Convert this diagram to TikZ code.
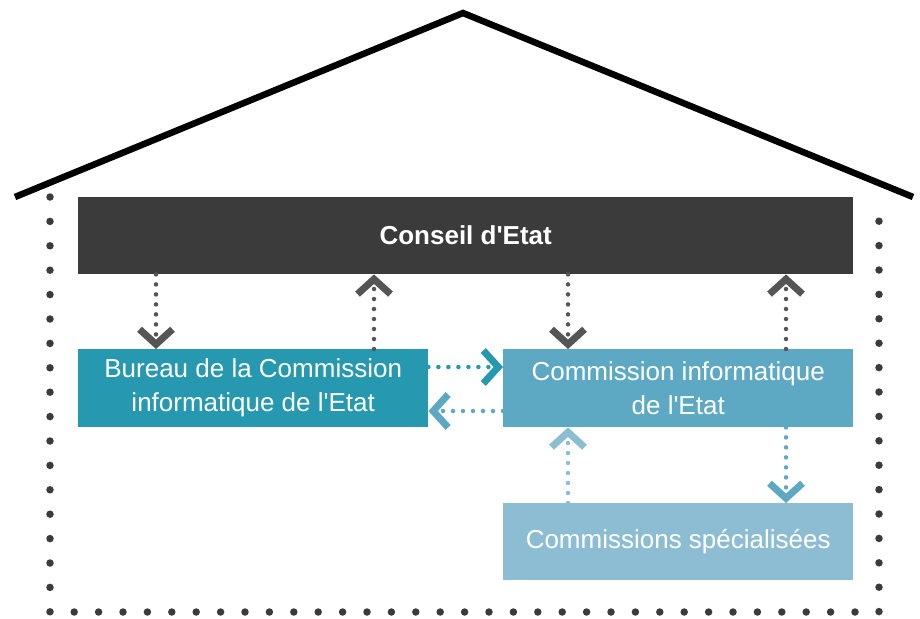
\documentclass[tikz,border=0pt]{standalone}
\usepackage{fontspec}
\setmainfont{Liberation Sans}
\usetikzlibrary{arrows.meta}
\definecolor{darkbox}{HTML}{3B3B3B}
\definecolor{darkline}{HTML}{555555}
\definecolor{bureaucol}{HTML}{2699B1}
\definecolor{commcol}{HTML}{5DA9C4}
\definecolor{speccol}{HTML}{8DBDD3}
\tikzset{
  orgbox/.style={rectangle, anchor=north west, inner sep=0pt, text=white, align=center,
    font=\fontsize{26}{34}\selectfont},
  conn/.style={line width=4.5pt, line cap=round, dash pattern=on 0pt off 10pt,
    -{Straight Barb[length=15pt,width=33pt,line width=7pt]}},
  roofline/.style={line width=6.5pt, line join=miter},
  border/.style={line width=7.5pt, line cap=round, dash pattern=on 0pt off 24.4pt, color=darkbox}
}
\begin{document}
\begin{tikzpicture}[x=1pt,y=-1pt]
\useasboundingbox (0,0) rectangle (920,618);
% roof
\coordinate (rl) at (15,197);
\coordinate (ra) at (463,13);
\coordinate (rr) at (913,197);
\draw[roofline] (rl) -- (ra) -- (rr);
% dotted walls
\coordinate (w1) at (50,197);
\coordinate (w2) at (50,612);
\coordinate (w3) at (879,612);
\coordinate (w4) at (879,197);
\draw[border] (w1) -- (w2) -- (w3) -- (w4);
% boxes
\node[orgbox, fill=darkbox, minimum width=775pt, minimum height=77pt] (conseil) at (78,197)
  {\bfseries Conseil d\textquotesingle Etat};
\node[orgbox, fill=bureaucol, minimum width=350pt, minimum height=78pt] (bureau) at (78,349)
  {Bureau de la Commission\\informatique de l\textquotesingle Etat};
\node[orgbox, fill=commcol, minimum width=350pt, minimum height=78pt] (comm) at (503,349)
  {Commission informatique\\de l\textquotesingle Etat};
\node[orgbox, fill=speccol, minimum width=350pt, minimum height=77pt] (spec) at (503,503)
  {Commissions spécialisées};
% connector guides
\coordinate (x1) at (156,0);
\coordinate (x2) at (374,0);
\coordinate (x3) at (568,0);
\coordinate (x4) at (786,0);
\coordinate (y1) at (0,367);
\coordinate (y2) at (0,411);
% connectors
\draw[conn, darkline] (conseil.south -| x1) -- (bureau.north -| x1);
\draw[conn, darkline] (bureau.north -| x2) -- (conseil.south -| x2);
\draw[conn, darkline] (conseil.south -| x3) -- (comm.north -| x3);
\draw[conn, darkline] (comm.north -| x4) -- (conseil.south -| x4);
\draw[conn, bureaucol] (bureau.east |- y1) -- (comm.west |- y1);
\draw[conn, commcol] (comm.west |- y2) -- (bureau.east |- y2);
\draw[conn, speccol] (spec.north -| x3) -- (comm.south -| x3);
\draw[conn, commcol] (comm.south -| x4) -- (spec.north -| x4);
\end{tikzpicture}
\end{document}
